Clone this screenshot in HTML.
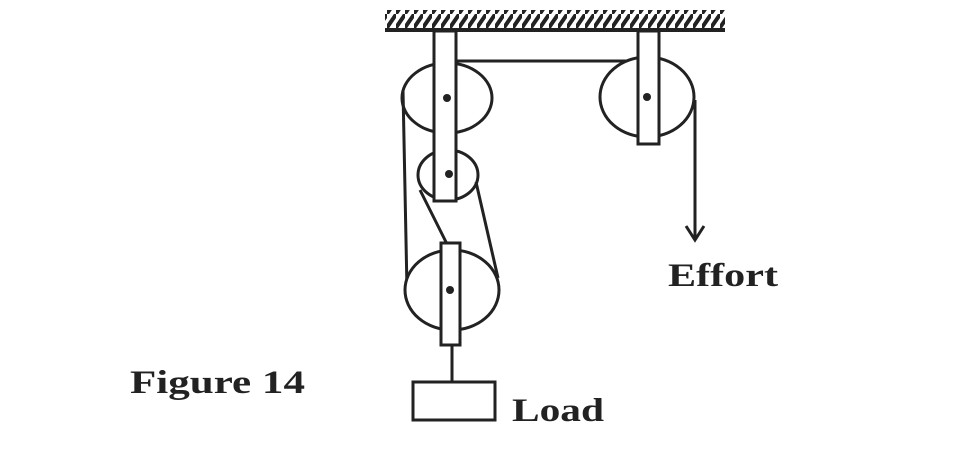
<!DOCTYPE html>
<html><head><style>html,body{margin:0;padding:0;background:#fff;width:970px;height:469px;overflow:hidden}</style></head>
<body>
<svg width="970" height="469" viewBox="0 0 970 469" xmlns="http://www.w3.org/2000/svg">
<defs>
<pattern id="h" width="9" height="14" patternUnits="userSpaceOnUse">
<line x1="-1" y1="15" x2="10" y2="-1" stroke="#222" stroke-width="4"/>
</pattern>
</defs>
<g stroke="#222" stroke-width="3" fill="none">
<rect x="385" y="10" width="340" height="19" fill="url(#h)" stroke="none"/>
<line x1="385" y1="30" x2="725" y2="30" stroke-width="4"/>
<line x1="457" y1="61" x2="637" y2="61"/>
<ellipse cx="447" cy="98" rx="45" ry="35" fill="#fff"/>
<ellipse cx="647" cy="97" rx="47" ry="40" fill="#fff"/>
<ellipse cx="448" cy="175" rx="30" ry="25" fill="#fff"/>
<line x1="403" y1="90" x2="407" y2="290"/>
<line x1="420" y1="190" x2="450" y2="250"/>
<line x1="476" y1="182" x2="498" y2="278"/>
<line x1="695" y1="100" x2="695" y2="240"/>
<polyline points="686,226 695,240 704,226"/>
<ellipse cx="452" cy="290" rx="47" ry="40" fill="#fff"/>
<rect x="434" y="31" width="22" height="170" fill="#fff"/>
<rect x="638" y="31" width="21" height="113" fill="#fff"/>
<rect x="441" y="243" width="19" height="102" fill="#fff"/>
<line x1="452" y1="345" x2="452" y2="382"/>
<rect x="413" y="382" width="82" height="38" fill="#fff"/>
</g>
<g fill="#222">
<circle cx="447" cy="98" r="4"/><circle cx="647" cy="97" r="4"/><circle cx="449" cy="174" r="4"/><circle cx="450" cy="290" r="4"/>
</g>
<g font-family="Liberation Serif, serif" font-weight="bold" fill="#222" font-size="33">
<text x="668" y="286" textLength="110" lengthAdjust="spacingAndGlyphs">Effort</text>
<text x="512" y="421" textLength="92" lengthAdjust="spacingAndGlyphs">Load</text>
<text x="130" y="393" textLength="175" lengthAdjust="spacingAndGlyphs">Figure 14</text>
</g>
</svg>
</body></html>
